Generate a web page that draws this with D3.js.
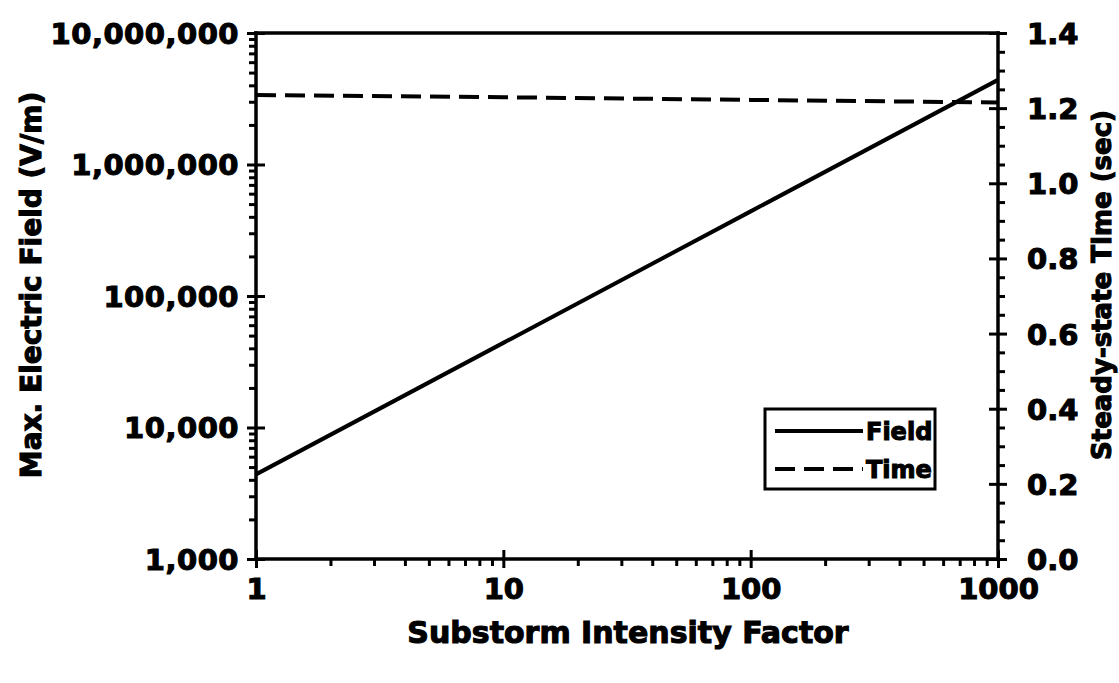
<!DOCTYPE html>
<html>
<head>
<meta charset="utf-8">
<script src="https://cdn.jsdelivr.net/npm/d3@7"></script>
<style>
  body { margin: 0; background: #fff; }
  text { font-family: "DejaVu Sans", sans-serif; font-weight: bold; fill: #000;
         stroke: #000; stroke-width: 1.1px; }
</style>
</head>
<body>
<svg id="chart" width="1119" height="683"></svg>
<script>
// values
var intensity = [1, 10, 100, 1000];
var fieldVm = [4400, 44000, 440000, 4400000];
var timeSec = [1.235, 1.229, 1.222, 1.215];
var xTicks = [1, 10, 100, 1000];
var leftTicks = [1000, 10000, 100000, 1000000, 10000000];
var rightTicks = [0, 0.2, 0.4, 0.6, 0.8, 1.0, 1.2, 1.4];
var seriesNames = ["Field", "Time"];

// plot box (note: "top" is a reserved window prop, so use pTop)
var pLeft = 256, pRight = 998, pTop = 33, pBottom = 559;
var svg = d3.select("#chart");

var x = d3.scaleLog().domain([1, 1000]).range([pLeft, pRight]);
var yL = d3.scaleLog().domain([1000, 10000000]).range([pBottom, pTop]);
var yR = d3.scaleLinear().domain([0, 1.4]).range([pBottom, pTop]);

// minor ticks for log axes (2..9 in each decade)
function minorLog(lo, hi) {
    var out = [];
    for (var d = lo; d < hi; d *= 10) {
        for (var k = 2; k < 10; k++) out.push(d * k);
    }
    return out;
}
var xMinor = minorLog(1, 1000);
var yMinor = minorLog(1000, 10000000);
var rMinor = d3.range(0, 29).map(function(i){ return i * 0.05; })
    .filter(function(v){ return Math.abs(v * 5 - Math.round(v * 5)) > 1e-6; });

function styleAxis(g) {
    g.select(".domain").remove();
    g.selectAll("line").attr("stroke", "#000").attr("stroke-width", 3);
}

// frame
function frameLine(x1, y1, x2, y2) {
    svg.append("line").attr("x1", x1).attr("x2", x2).attr("y1", y1).attr("y2", y2)
        .attr("stroke", "#000").attr("stroke-width", 3.5).attr("stroke-linecap", "square");
}
frameLine(pLeft, pTop, pRight, pTop);
frameLine(pLeft, pBottom, pRight, pBottom);
frameLine(pLeft, pTop, pLeft, pBottom);
frameLine(pRight, pTop, pRight, pBottom);

// left axis
var gL = svg.append("g").attr("transform", "translate(" + pLeft + ",0)")
    .call(d3.axisLeft(yL).tickValues(leftTicks).tickSize(9).tickPadding(8)
        .tickFormat(d3.format(",")));
styleAxis(gL);
gL.selectAll("text").style("font-size", "29px").style("letter-spacing", "0.5px").attr("dy", "0.36em");
var gLin = svg.append("g").attr("transform", "translate(" + pLeft + ",0)")
    .call(d3.axisRight(yL).tickValues(leftTicks).tickSize(9).tickFormat(""));
styleAxis(gLin);
var gLm = svg.append("g").attr("transform", "translate(" + pLeft + ",0)")
    .call(d3.axisLeft(yL).tickValues(yMinor).tickSize(7).tickFormat(""));
styleAxis(gLm);

// right axis
var gR = svg.append("g").attr("transform", "translate(" + pRight + ",0)")
    .call(d3.axisRight(yR).tickValues(rightTicks).tickSize(9).tickPadding(20)
        .tickFormat(d3.format(".1f")));
styleAxis(gR);
gR.selectAll("text").style("font-size", "29px").attr("dy", "0.36em");
var gRin = svg.append("g").attr("transform", "translate(" + pRight + ",0)")
    .call(d3.axisLeft(yR).tickValues(rightTicks).tickSize(9).tickFormat(""));
styleAxis(gRin);
var gRm = svg.append("g").attr("transform", "translate(" + pRight + ",0)")
    .call(d3.axisRight(yR).tickValues(rMinor).tickSize(7).tickFormat(""));
styleAxis(gRm);

// bottom axis
var gX = svg.append("g").attr("transform", "translate(0," + pBottom + ")")
    .call(d3.axisBottom(x).tickValues(xTicks).tickSize(9).tickPadding(10)
        .tickFormat(d3.format("d")));
styleAxis(gX);
gX.selectAll("text").style("font-size", "29px").attr("dy", "0.71em");
var gXin = svg.append("g").attr("transform", "translate(0," + pBottom + ")")
    .call(d3.axisTop(x).tickValues(xTicks).tickSize(9).tickFormat(""));
styleAxis(gXin);
var gXm = svg.append("g").attr("transform", "translate(0," + pBottom + ")")
    .call(d3.axisBottom(x).tickValues(xMinor).tickSize(7).tickFormat(""));
styleAxis(gXm);

// series
var fieldLine = d3.line()
    .x(function(d, i){ return x(intensity[i]); })
    .y(function(d){ return yL(d); });
var timeLine = d3.line()
    .x(function(d, i){ return x(intensity[i]); })
    .y(function(d){ return yR(d); });

svg.append("path").datum(fieldVm).attr("d", fieldLine)
    .attr("fill", "none").attr("stroke", "#000").attr("stroke-width", 4);
svg.append("path").datum(timeSec).attr("d", timeLine)
    .attr("fill", "none").attr("stroke", "#000").attr("stroke-width", 4)
    .attr("stroke-dasharray", "20,9");

// axis titles
svg.append("text").attr("x", 628).attr("y", 643).attr("text-anchor", "middle")
    .style("font-size", "30px").text("Substorm Intensity Factor");
svg.append("text").attr("transform", "translate(41,285) rotate(-90)")
    .attr("text-anchor", "middle").style("font-size", "28px")
    .text("Max. Electric Field (V/m)");
svg.append("text").attr("transform", "translate(1111,285) rotate(-90)")
    .attr("text-anchor", "middle").style("font-size", "26px")
    .text("Steady-state Time (sec)");

// legend
var lg = svg.append("g");
lg.append("rect").attr("x", 765).attr("y", 409).attr("width", 170).attr("height", 80)
    .attr("fill", "#fff").attr("stroke", "#000").attr("stroke-width", 3);
seriesNames.forEach(function(name, i) {
    var yy = 431 + i * 38;
    lg.append("line").attr("x1", 775).attr("x2", 863).attr("y1", yy).attr("y2", yy)
        .attr("stroke", "#000").attr("stroke-width", 4)
        .attr("stroke-dasharray", i === 1 ? "20,9" : null);
    lg.append("text").attr("x", 866).attr("y", yy).attr("dy", "0.36em")
        .style("font-size", "24px").text(name);
});
</script>
</body>
</html>
